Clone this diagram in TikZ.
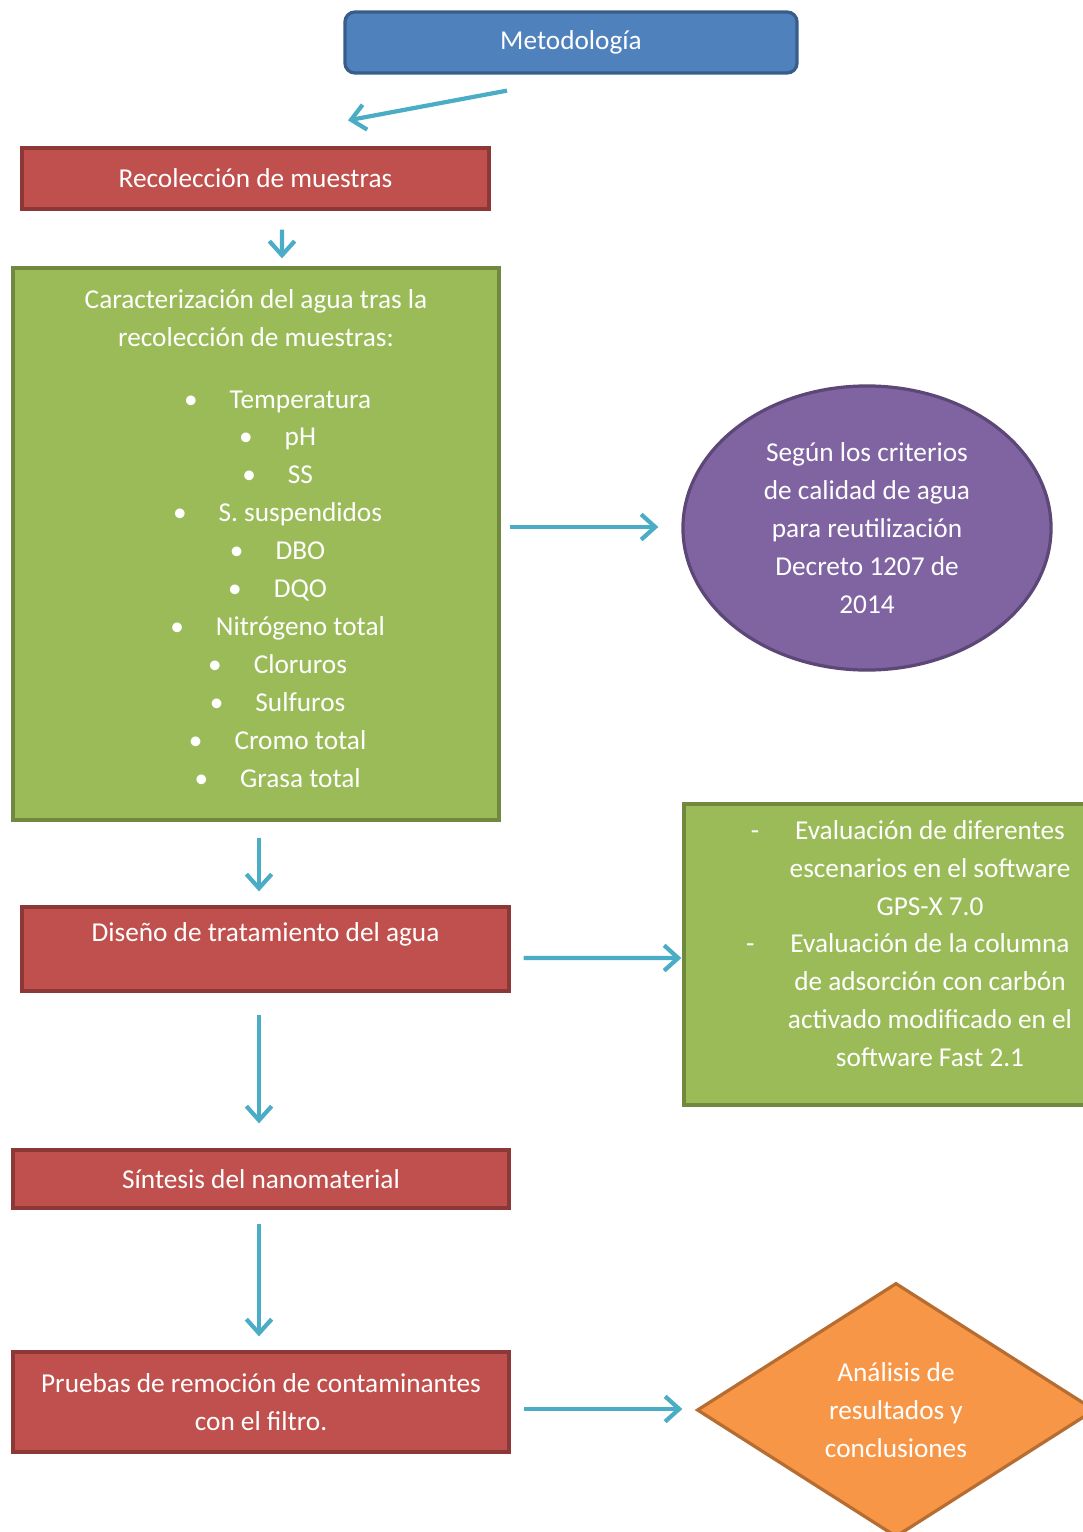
\documentclass[tikz,border=0pt]{standalone}
\usepackage{fontspec}
\setmainfont{Carlito}
\usepackage{tikz}
\usetikzlibrary{calc}
\usetikzlibrary{arrows.meta}
\usetikzlibrary{shapes.geometric}
\usetikzlibrary{positioning}

\definecolor{azul}{HTML}{4F81BD}
\definecolor{azulb}{HTML}{385D8A}
\definecolor{rojo}{HTML}{C0504D}
\definecolor{rojob}{HTML}{8C3836}
\definecolor{verde}{HTML}{9BBB59}
\definecolor{verdeb}{HTML}{71893F}
\definecolor{morado}{HTML}{8064A2}
\definecolor{moradob}{HTML}{5C4776}
\definecolor{naranja}{HTML}{F79646}
\definecolor{naranjab}{HTML}{B66D31}
\definecolor{cian}{HTML}{4BACC6}

\tikzstyle{caja}=[draw, line width=2.3pt, text=white, align=center, inner sep=0pt,
                  font=\fontsize{19.4}{27}\selectfont]
\tikzstyle{cajaazul}=[caja, fill=azul, draw=azulb, rounded corners=0.25cm]
\tikzstyle{cajaroja}=[caja, fill=rojo, draw=rojob]
\tikzstyle{cajaverde}=[caja, fill=verde, draw=verdeb]
\tikzstyle{elipse}=[caja, ellipse, fill=morado, draw=moradob]
\tikzstyle{rombo}=[caja, diamond, aspect=1.57, inner sep=2pt, fill=naranja, draw=naranjab]
\tikzstyle{flecha}=[draw=cian, line width=3pt, -{Straight Barb[length=10pt,width=18pt]}]

\newcommand{\punto}[1]{\hspace*{1.08cm}\textbullet\hspace{0.8cm}#1}
\newcommand{\guion}{\llap{-\hspace{0.9cm}}}

\begin{document}
\begin{tikzpicture}[x=0.025cm, y=-0.025cm]
\useasboundingbox (0,0) rectangle (1083,1532);

\node[cajaazul, minimum width=11.3cm, minimum height=1.525cm] (metodo) at (571,42.5) {Metodología};
\node[cajaroja, minimum width=11.675cm, minimum height=1.525cm] (recol) at (255.5,178.5) {Recolección de muestras};
\node[cajaverde, minimum width=12.15cm, minimum height=13.8cm, text depth=0.28cm] (caract) at (256,544)
  {Caracterización del agua tras la\\ recolección de muestras:\\[0.6cm]
   \punto{Temperatura}\\ \punto{pH}\\ \punto{SS}\\ \punto{S. suspendidos}\\
   \punto{DBO}\\ \punto{DQO}\\ \punto{Nitrógeno total}\\ \punto{Cloruros}\\
   \punto{Sulfuros}\\ \punto{Cromo total}\\ \punto{Grasa total}};
\node[elipse, minimum width=9.2cm, minimum height=7.1cm] (criterio) at (867,528)
  {Según los criterios\\ de calidad de agua\\ para reutilización\\ Decreto 1207 de\\ 2014};
\node[cajaroja, minimum width=12.175cm, minimum height=2.1cm, text height=0.45cm, text depth=0.85cm] (diseno) at (265.5,949)
  {Diseño de tratamiento del agua};
\node[cajaverde, minimum width=12.3cm, minimum height=7.525cm, text depth=0.55cm] (evalua) at (930,954.5)
  {\guion Evaluación de diferentes\\ escenarios en el software\\ GPS-X 7.0\\
   \guion Evaluación de la columna\\ de adsorción con carbón\\ activado modificado en el\\ software Fast 2.1};
\node[cajaroja, minimum width=12.4cm, minimum height=1.45cm] (sintesis) at (261,1179) {Síntesis del nanomaterial};
\node[cajaroja, minimum width=12.4cm, minimum height=2.5cm] (pruebas) at (261,1402)
  {Pruebas de remoción de contaminantes\\ con el filtro.};
\node[rombo, minimum width=9.95cm, minimum height=6.35cm] (analisis) at (896,1410)
  {Análisis de\\ resultados y\\ conclusiones};

% flechas
\draw[flecha] ($(metodo.south)+(-64,16)$) -- ($(recol.north)+(92.5,-26)$);
\draw[flecha] ($(recol.south)+(26.5,19)$) -- ($(caract.north)+(26,-8)$);
\draw[flecha] ($(caract.east)+(9,-17)$) -- ($(criterio.west)+(-23,-1)$);
\draw[flecha] ($(caract.south)+(3,16)$) -- ($(diseno.north)+(-6.5,-14)$);
\draw[flecha] ($(diseno.east)+(13,9)$) -- ($(evalua.west)+(-1,3.5)$);
\draw[flecha] ($(diseno.south)+(-6.5,22)$) -- ($(sintesis.north)+(-2,-25)$);
\draw[flecha] ($(sintesis.south)+(-2,14)$) -- ($(pruebas.north)+(-2,-14)$);
\draw[flecha] ($(pruebas.east)+(13,7)$) -- ($(analisis.west)+(-13,-1)$);
\end{tikzpicture}
\end{document}
